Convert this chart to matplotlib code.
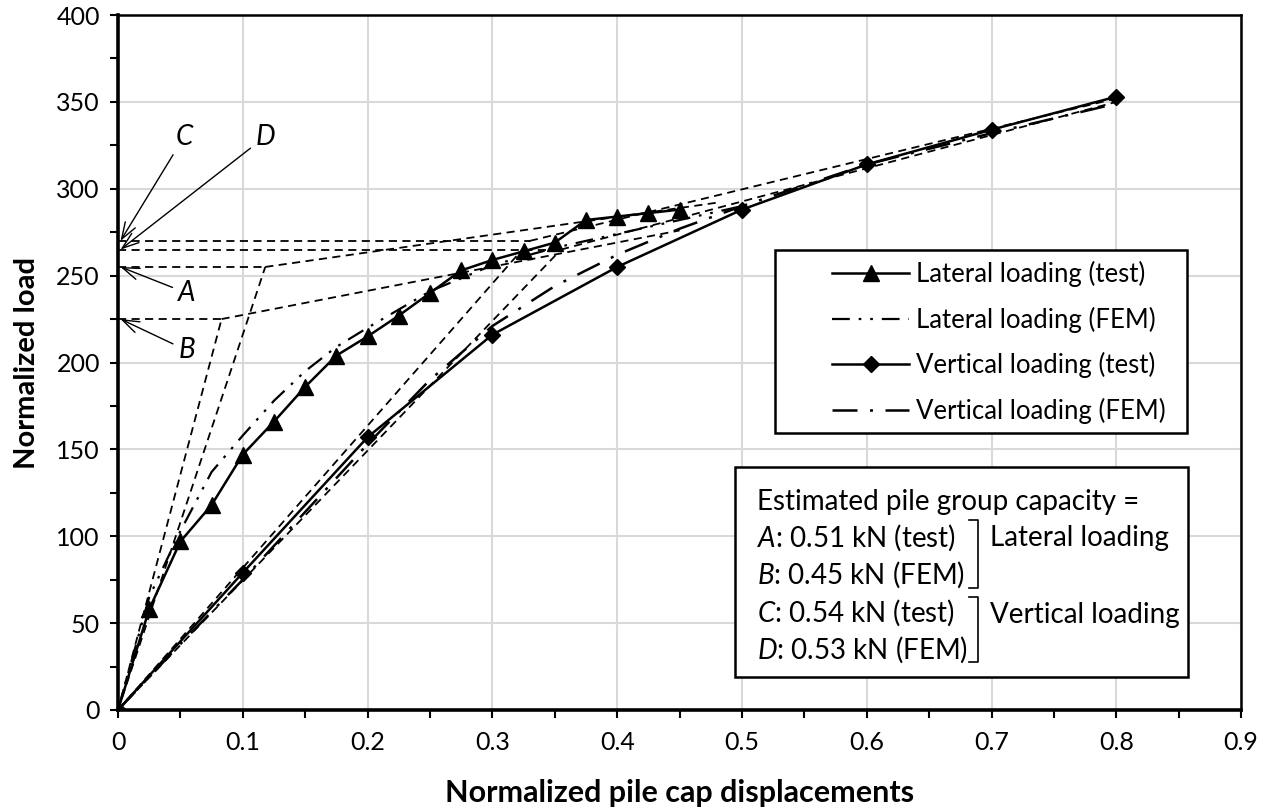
import matplotlib
matplotlib.use("Agg")
import matplotlib.pyplot as plt
from matplotlib.lines import Line2D
from matplotlib.patches import Rectangle

plt.rcParams['font.family'] = ['Lato', 'DejaVu Sans']
plt.rcParams['mathtext.fontset'] = 'custom'
plt.rcParams['mathtext.rm'] = 'Lato'
plt.rcParams['mathtext.it'] = 'Lato:italic'

# load-displacement curves
lat_test_x = [0, 0.025, 0.05, 0.075, 0.1, 0.125, 0.15, 0.175, 0.2, 0.225,
              0.25, 0.275, 0.3, 0.325, 0.35, 0.375, 0.4, 0.425, 0.45]
lat_test_y = [0, 58, 97, 118, 147, 166, 186, 204, 215, 227,
              240, 253, 259, 264, 269, 282, 284, 286, 288]

lat_fem_x = [0, 0.025, 0.05, 0.075, 0.1, 0.125, 0.15, 0.175, 0.2, 0.25,
             0.3, 0.35, 0.4, 0.45, 0.5]
lat_fem_y = [0, 65, 103, 137, 158, 178, 195, 209, 220, 241,
             256, 266, 274, 282, 290]

vert_test_x = [0, 0.1, 0.2, 0.3, 0.4, 0.5, 0.6, 0.7, 0.8]
vert_test_y = [0, 79, 157, 216, 255, 288, 314, 334, 353]

vert_fem_x = [0, 0.05, 0.1, 0.15, 0.2, 0.25, 0.3, 0.35, 0.4, 0.45, 0.5, 0.6, 0.7, 0.8]
vert_fem_y = [0, 38, 75, 114, 153, 190, 221, 244, 262, 277, 290, 314, 332, 349]

# estimated capacities (kN) and the normalising factor for load
cap_names = ['A', 'B', 'C', 'D']
cap_kN = [0.51, 0.45, 0.54, 0.53]
load_norm = 500.0
# displacement where initial and final tangents intersect
cap_disp = [0.118, 0.083, 0.33, 0.355]
# far end of the final tangent lines
tan_end_x = [0.48, 0.45, 0.8, 0.8]
tan_end_y = [292, 276, 352, 350]

# label / arrow-tail positions for A..D
lab_x = [0.055, 0.055, 0.053, 0.118]
lab_y = [240, 207, 330, 330]

fig, ax = plt.subplots(figsize=(12.73, 8.07), dpi=100)
fig.subplots_adjust(left=0.0927, right=0.975, bottom=0.1202, top=0.9814)

ax.set_xlim(0, 0.9)
ax.set_ylim(0, 400)
ax.set_xticks([i / 10 for i in range(10)])
ax.set_xticklabels(['0'] + ['%.1f' % (i / 10) for i in range(1, 10)])
ax.set_xticks([i / 20 for i in range(19)], minor=True)
ax.set_yticks(range(0, 401, 50))
ax.set_yticks(range(0, 401, 25), minor=True)
ax.grid(True, which='major', color='#d9d9d9', lw=1.5)
ax.set_axisbelow(True)
ax.tick_params(which='both', direction='out', length=6, width=1.5, labelsize=18)
ax.tick_params(axis='x', pad=9)
ax.tick_params(axis='y', pad=7)
for sp in ax.spines.values():
    sp.set_linewidth(1.8)
ax.spines['bottom'].set_linewidth(2.6)
ax.spines['left'].set_linewidth(2.6)

ax.set_xlabel('Normalized pile cap displacements', fontsize=22, fontweight='bold', labelpad=18)
ax.set_ylabel('Normalized load', fontsize=21, fontweight='bold', labelpad=12)

# two-tangent construction lines
dash = dict(color='black', lw=1.3, ls=(0, (4.5, 3)), zorder=2)
for i in range(4):
    q = cap_kN[i] * load_norm
    ax.plot([0, cap_disp[i]], [q, q], **dash)
    ax.plot([0, cap_disp[i]], [0, q], **dash)
    ax.plot([cap_disp[i], tan_end_x[i]], [q, tan_end_y[i]], **dash)
    ax.annotate(cap_names[i], xy=(0.002, q), xytext=(lab_x[i], lab_y[i]),
                fontsize=20, fontstyle='italic', ha='center', va='center',
                arrowprops=dict(arrowstyle='->,head_length=1.0,head_width=0.35',
                                lw=1.0, color='black', mutation_scale=12,
                                shrinkA=2, shrinkB=0))

l1, = ax.plot(lat_test_x, lat_test_y, color='black', lw=1.8, marker='^', ms=11, zorder=4)
l2, = ax.plot(lat_fem_x, lat_fem_y, color='black', lw=1.6,
              ls=(0, (8, 4, 1.2, 4, 1.2, 4)), zorder=3)
l3, = ax.plot(vert_test_x, vert_test_y, color='black', lw=1.8, marker='D', ms=8.5, zorder=4)
l4, = ax.plot(vert_fem_x, vert_fem_y, color='black', lw=1.8,
              ls=(0, (10, 5, 1.2, 5)), zorder=3)

leg = ax.legend([l1, l2, l3, l4],
                ['Lateral loading (test)', 'Lateral loading (FEM)',
                 'Vertical loading (test)', 'Vertical loading (FEM)'],
                loc='upper left', bbox_to_anchor=(0.636, 0.646), frameon=False,
                fontsize=18.5, handlelength=3.0, handletextpad=0.25,
                labelspacing=0.76, borderpad=0, borderaxespad=0)
ax.add_patch(Rectangle((0.585, 0.399), 0.367, 0.263, transform=ax.transAxes,
                       fill=True, facecolor='white', edgecolor='black', lw=1.8, zorder=5))
leg.set_zorder(6)

# capacity summary box
ax.add_patch(Rectangle((0.549, 0.0475), 0.404, 0.3025, transform=ax.transAxes,
                       facecolor='white', edgecolor='black', lw=1.8, zorder=5))
tx = 0.569
ax.text(tx, 0.299, 'Estimated pile group capacity =', transform=ax.transAxes,
        fontsize=20, va='center', zorder=6)
rows_y = [0.248, 0.194, 0.140, 0.086]
tags = ['test', 'FEM', 'test', 'FEM']
for i in range(4):
    ax.text(tx, rows_y[i], r'$\mathit{%s}$: %.2f kN (%s)' % (cap_names[i], cap_kN[i], tags[i]),
            transform=ax.transAxes, fontsize=20, va='center', zorder=6)

# brackets grouping the two loading cases
bx0, bx1 = 0.758, 0.766
for ytop, ybot, txt in [(0.274, 0.176, 'Lateral loading'), (0.162, 0.069, 'Vertical loading')]:
    ax.add_line(Line2D([bx0, bx1, bx1, bx0], [ytop, ytop, ybot, ybot],
                       transform=ax.transAxes, color='black', lw=1.2, zorder=6))
    ax.text(0.776, ytop - 0.026, txt, transform=ax.transAxes, fontsize=20,
            va='center', zorder=6)

fig.savefig('out.png', dpi=100)
